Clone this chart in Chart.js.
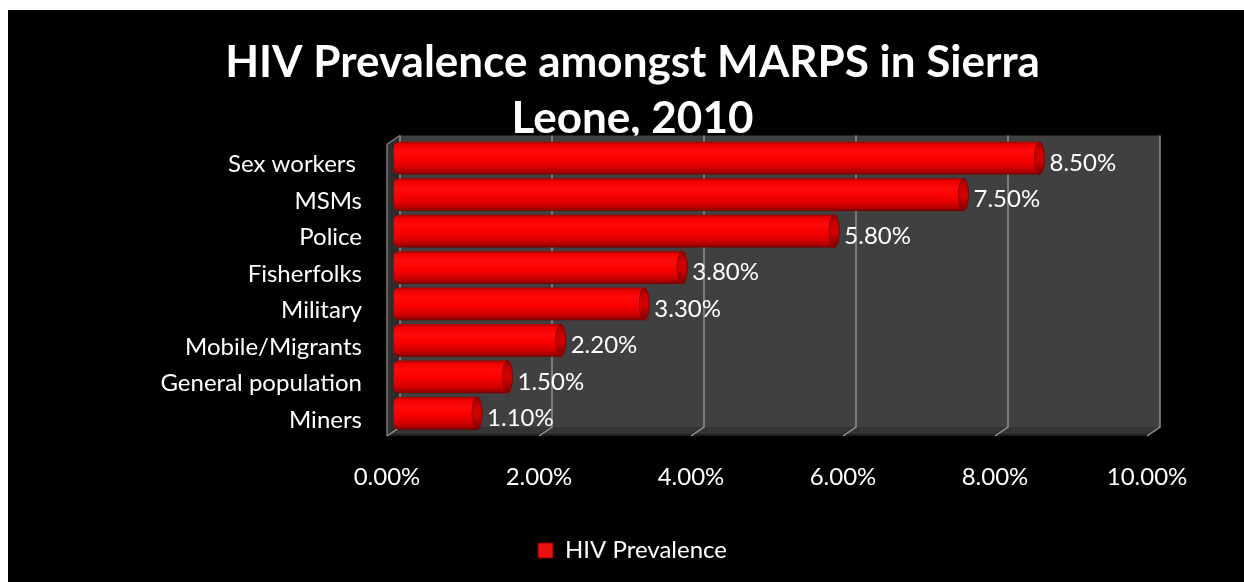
<!DOCTYPE html>
<html>
<head>
<meta charset="utf-8">
<script src="https://cdn.jsdelivr.net/npm/chart.js@4/dist/chart.umd.min.js"></script>
<style>
  html, body { margin: 0; padding: 0; background: #ffffff; width: 1244px; height: 582px; overflow: hidden; }
  #wrap { position: absolute; left: 8px; top: 10px; width: 1236px; height: 572px; background: #000000; }
  canvas { display: block; }
</style>
</head>
<body>
<div id="wrap"><canvas id="c" width="1236" height="572"></canvas></div>
<script>
// HIV prevalence by population group, Sierra Leone 2010 (percent)
const categories = ['Sex workers ', 'MSMs', 'Police', 'Fisherfolks', 'Military', 'Mobile/Migrants', 'General population', 'Miners'];
const prevalence = [8.5, 7.5, 5.8, 3.8, 3.3, 2.2, 1.5, 1.1];
const xTicks = [0, 2, 4, 6, 8, 10];
const titleLines = ['HIV Prevalence amongst MARPS in Sierra', 'Leone, 2010'];
const seriesName = 'HIV Prevalence';

const FONT = 'Lato';
const LABEL_SIZE = 24;
const DX = 6.5, DY = 4.5;      // half of the depth offset of the 3-D frame
const BAR_PCT = 0.9;

function pct(v) { return v.toFixed(2) + '%'; }

function barHalf(chart) {
  const y = chart.scales.y;
  return (y.bottom - y.top) / categories.length * BAR_PCT / 2;
}

// cylinder body shading, top to bottom
function bodyGradient(ctx) {
  const chart = ctx.chart;
  const y = chart.scales && chart.scales.y;
  if (ctx.type !== 'data' || !y || !y.bottom) return '#ff0000';
  const c = y.getPixelForValue(ctx.dataIndex);
  const h = barHalf(chart);
  const g = chart.ctx.createLinearGradient(0, c - h, 0, c + h);
  g.addColorStop(0.00, '#a80000');
  g.addColorStop(0.10, '#f00000');
  g.addColorStop(0.30, '#ff0a0a');
  g.addColorStop(0.55, '#f80000');
  g.addColorStop(0.78, '#d80000');
  g.addColorStop(0.92, '#a80000');
  g.addColorStop(1.00, '#6e0000');
  return g;
}

function poly(ctx, pts) {
  ctx.beginPath();
  ctx.moveTo(pts[0][0], pts[0][1]);
  for (let i = 1; i < pts.length; i++) ctx.lineTo(pts[i][0], pts[i][1]);
  ctx.closePath();
}

// back wall, side wall, floor and grid of the 3-D frame
const frame3d = {
  id: 'frame3d',
  beforeDatasetsDraw(chart) {
    const { ctx, chartArea: a, scales: { x } } = chart;
    const bl = a.left + DX, br = a.right + DX, bt = a.top - DY, bb = a.bottom - DY;
    const fl = a.left - DX, fr = a.right - DX, ft = a.top + DY, fb = a.bottom + DY;
    ctx.save();
    ctx.fillStyle = '#404040';
    ctx.fillRect(bl, bt, br - bl, bb - bt);
    ctx.fillStyle = '#2c2c2c';
    poly(ctx, [[fl, ft], [bl, bt], [bl, bb], [fl, fb]]);
    ctx.fill();
    ctx.fillStyle = '#343434';
    poly(ctx, [[fl, fb], [fr, fb], [br, bb], [bl, bb]]);
    ctx.fill();
    ctx.fillStyle = '#202020';
    ctx.fillRect(fl, fb - 2, fr - fl, 2);

    ctx.strokeStyle = '#8e8e8e';
    ctx.lineWidth = 1.5;
    xTicks.forEach(v => {
      const px = x.getPixelForValue(v);
      ctx.beginPath();
      ctx.moveTo(px + DX, bt);
      ctx.lineTo(px + DX, bb);
      ctx.lineTo(px - DX, fb);
      ctx.stroke();
    });
    ctx.strokeStyle = '#7a7a7a';
    ctx.beginPath();
    ctx.moveTo(fl, fb);
    ctx.lineTo(fl, ft);
    ctx.lineTo(bl, bt);
    ctx.stroke();
    ctx.restore();
  }
};

// end caps of the cylinders and the value labels
const cylinderCaps = {
  id: 'cylinderCaps',
  afterDatasetsDraw(chart) {
    const { ctx } = chart;
    const meta = chart.getDatasetMeta(0);
    ctx.save();
    meta.data.forEach((el, i) => {
      const p = el.getProps(['x', 'y', 'height'], true);
      const ry = p.height / 2;
      const g = ctx.createLinearGradient(0, p.y - ry, 0, p.y + ry);
      g.addColorStop(0.00, '#8a0000');
      g.addColorStop(0.25, '#c80000');
      g.addColorStop(0.55, '#d20000');
      g.addColorStop(1.00, '#7a0000');
      ctx.beginPath();
      ctx.ellipse(p.x, p.y, 5, ry, 0, 0, Math.PI * 2);
      ctx.fillStyle = g;
      ctx.fill();
      ctx.strokeStyle = '#900000';
      ctx.lineWidth = 1;
      ctx.stroke();

      ctx.fillStyle = '#ffffff';
      ctx.font = LABEL_SIZE + 'px ' + FONT;
      ctx.textAlign = 'left';
      ctx.textBaseline = 'middle';
      ctx.fillText(pct(prevalence[i]), p.x + 10, p.y + 5);
    });
    ctx.restore();
  }
};

new Chart(document.getElementById('c'), {
  type: 'bar',
  data: {
    labels: categories,
    datasets: [{
      label: seriesName,
      data: prevalence,
      backgroundColor: bodyGradient,
      borderWidth: 0,
      borderSkipped: false,
      borderRadius: { topLeft: 6, bottomLeft: 6, topRight: 0, bottomRight: 0 },
      barPercentage: BAR_PCT,
      categoryPercentage: 1
    }]
  },
  options: {
    indexAxis: 'y',
    responsive: false,
    animation: false,
    devicePixelRatio: 1,
    layout: { padding: { left: 103.5, right: 90.5, top: 0, bottom: 9.5 } },
    scales: {
      x: {
        min: 0,
        max: 10,
        afterBuildTicks(scale) { scale.ticks = xTicks.map(v => ({ value: v })); },
        afterFit(scale) { scale.height = 97; },
        grid: { display: false, drawTicks: false },
        border: { display: false },
        ticks: {
          autoSkip: false,
          maxRotation: 0,
          padding: 31,
          labelOffset: -DX,
          color: '#ffffff',
          font: { family: FONT, size: LABEL_SIZE }
          ,
          callback: v => pct(v)
        }
      },
      y: {
        afterFit(scale) { scale.width = 282; },
        grid: { display: false, drawTicks: false },
        border: { display: false },
        ticks: {
          padding: 31.5,
          labelOffset: 6.5,
          color: '#ffffff',
          font: { family: FONT, size: LABEL_SIZE }
        }
      }
    },
    plugins: {
      title: {
        display: true,
        text: titleLines,
        color: '#ffffff',
        font: { family: FONT, weight: 'bold', size: 44, lineHeight: 56 / 44 },
        padding: { top: 25, bottom: -7 }
      },
      legend: {
        position: 'bottom',
        labels: {
          color: '#ffffff',
          font: { family: FONT, size: LABEL_SIZE },
          boxWidth: 15,
          boxHeight: 15,
          padding: 10,
          generateLabels(chart) {
            return [{
              text: seriesName,
              fillStyle: '#e81010',
              strokeStyle: '#8a0000',
              lineWidth: 1,
              fontColor: '#ffffff',
              datasetIndex: 0,
              hidden: false
            }];
          }
        }
      },
      tooltip: { enabled: false }
    }
  },
  plugins: [frame3d, cylinderCaps]
});
</script>
</body>
</html>
